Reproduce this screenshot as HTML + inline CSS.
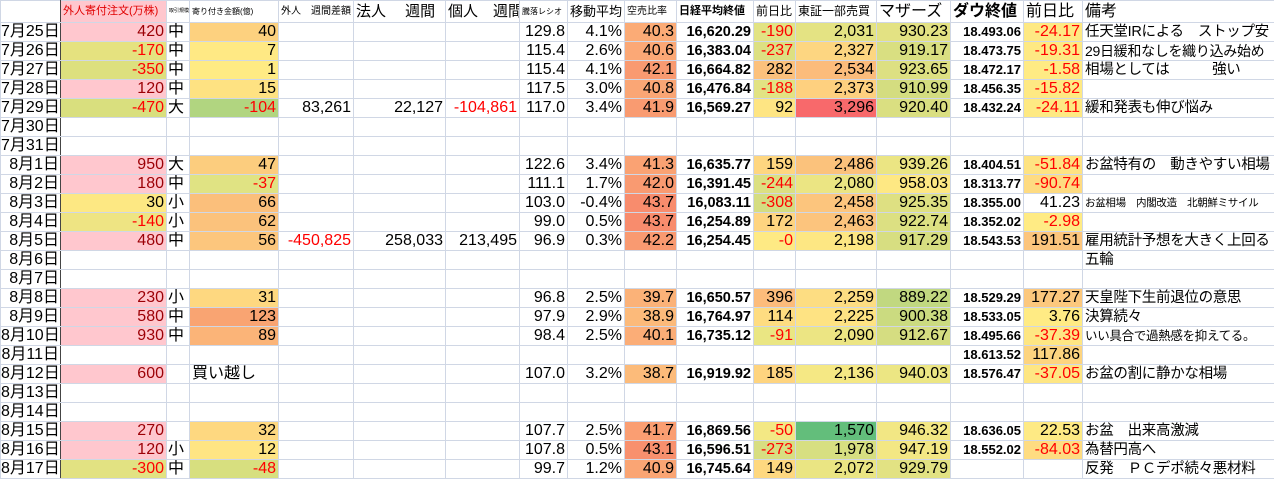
<!DOCTYPE html>
<html><head><meta charset="utf-8">
<style>
html,body{margin:0;padding:0;background:#fff;width:1274px;height:479px;overflow:hidden}
table{border-collapse:collapse;table-layout:fixed;width:1274px;font-family:"Liberation Sans","Noto Sans CJK JP",sans-serif;font-size:16px;color:#000}
td{border:1px solid #d0d7e5;height:18px;line-height:18px;padding:0 2px;white-space:nowrap;overflow:hidden;text-align:right}
tr.h td{height:21px;line-height:21px;text-align:left;font-size:11px}
td.a{border-right:1px solid #444;padding:0 1px 0 0}
td.c{text-align:left;padding:0 1px}
td.q{text-align:left;font-size:14.5px;letter-spacing:-0.3px}
td.n{font-weight:bold;font-size:14.5px}
td.w{font-weight:bold;font-size:13px}
.r{color:#ff0000}.d{color:#9c0006}
.pk{background:#ffc7ce}
</style></head><body>
<table>
<colgroup><col style="width:60px"><col style="width:106px"><col style="width:23px"><col style="width:89px"><col style="width:75px"><col style="width:92px"><col style="width:74px"><col style="width:48px"><col style="width:57px"><col style="width:52px"><col style="width:77px"><col style="width:42px"><col style="width:81px"><col style="width:74px"><col style="width:73px"><col style="width:59px"><col style="width:192px"></colgroup>
<tr class="h"><td class="a"></td><td class="pk" style="color:#e00000;font-size:11px">外人寄付注文(万株)</td><td style="font-size:5px">取引規模</td><td style="font-size:8px">寄り付き金額(億)</td><td style="font-size:10px">外人　週間差額</td><td style="font-size:15px">法人　 週間</td><td style="font-size:15px">個人　週間</td><td style="font-size:8px">騰落レシオ</td><td style="font-size:13px">移動平均</td><td style="font-size:10px">空売比率</td><td style="font-size:11px;font-weight:bold">日経平均終値</td><td style="font-size:12px">前日比</td><td style="font-size:12px">東証一部売買</td><td style="font-size:16px">マザーズ</td><td style="font-size:16px;font-weight:bold">ダウ終値</td><td style="font-size:16px">前日比</td><td style="font-size:16px">備考</td></tr>
<tr><td class="a">7月25日</td><td class="pk d">420</td><td class="c">中</td><td style="background:#fdd17f">40</td><td></td><td></td><td></td><td>129.8</td><td>4.1%</td><td style="background:#fbab76">40.3</td><td class="n">16,620.29</td><td class="r" style="background:#e2e383">-190</td><td style="background:#e4e383">2,031</td><td style="background:#e3e283">930.23</td><td class="w">18.493.06</td><td class="r" style="background:#fee983">-24.17</td><td class="q">任天堂IRによる　ストップ安</td></tr>
<tr><td class="a">7月26日</td><td class="r" style="background:#e5e27f">-170</td><td class="c">中</td><td style="background:#ffe984">7</td><td></td><td></td><td></td><td>115.4</td><td>2.6%</td><td style="background:#fba876">40.6</td><td class="n">16,383.04</td><td class="r" style="background:#dde082">-237</td><td style="background:#fdd681">2,327</td><td style="background:#d9df81">919.17</td><td class="w">18.473.75</td><td class="r" style="background:#fee983">-19.31</td><td class="q" style="font-size:14px">29日緩和なしを織り込み始め</td></tr>
<tr><td class="a">7月27日</td><td class="r" style="background:#dde07e">-350</td><td class="c">中</td><td style="background:#ffeb84">1</td><td></td><td></td><td></td><td>115.4</td><td>4.1%</td><td style="background:#f99a71">42.1</td><td class="n">16,664.82</td><td style="background:#fcc17c">282</td><td style="background:#fcbc7b">2,534</td><td style="background:#dde082">923.65</td><td class="w">18.472.17</td><td class="r" style="background:#ffeb84">-1.58</td><td class="q">相場としては　　　強い</td></tr>
<tr><td class="a">7月28日</td><td class="pk d">120</td><td class="c">中</td><td style="background:#fee282">15</td><td></td><td></td><td></td><td>117.5</td><td>3.0%</td><td style="background:#faa675">40.8</td><td class="n">16,476.84</td><td class="r" style="background:#e2e383">-188</td><td style="background:#fed07f">2,373</td><td style="background:#d4dd80">910.99</td><td class="w">18.456.35</td><td class="r" style="background:#fee983">-15.82</td><td class="q"></td></tr>
<tr><td class="a">7月29日</td><td class="r" style="background:#d9df7e">-470</td><td class="c">大</td><td class="r" style="background:#b1d580">-104</td><td>83,261</td><td>22,127</td><td class="r">-104,861</td><td>117.0</td><td>3.4%</td><td style="background:#f99b71">41.9</td><td class="n">16,569.27</td><td style="background:#fee583">92</td><td style="background:#f8696b">3,296</td><td style="background:#dadf81">920.40</td><td class="w">18.432.24</td><td class="r" style="background:#fee983">-24.11</td><td class="q">緩和発表も伸び悩み</td></tr>
<tr><td class="a">7月30日</td><td></td><td></td><td></td><td></td><td></td><td></td><td></td><td></td><td></td><td></td><td></td><td></td><td></td><td></td><td></td><td></td></tr>
<tr><td class="a">7月31日</td><td></td><td></td><td></td><td></td><td></td><td></td><td></td><td></td><td></td><td></td><td></td><td></td><td></td><td></td><td></td><td></td></tr>
<tr><td class="a">8月1日</td><td class="pk d">950</td><td class="c">大</td><td style="background:#fccd7e">47</td><td></td><td></td><td></td><td>122.6</td><td>3.4%</td><td style="background:#faa273">41.3</td><td class="n">16,635.77</td><td style="background:#fed680">159</td><td style="background:#fbc27c">2,486</td><td style="background:#ebe583">939.26</td><td class="w">18.404.51</td><td class="r" style="background:#fee382">-51.84</td><td class="q">お盆特有の　動きやすい相場</td></tr>
<tr><td class="a">8月2日</td><td class="pk d">180</td><td class="c">中</td><td class="r" style="background:#e0e383">-37</td><td></td><td></td><td></td><td>111.1</td><td>1.7%</td><td style="background:#f99a71">42.0</td><td class="n">16,391.45</td><td class="r" style="background:#dce082">-244</td><td style="background:#ebe583">2,080</td><td style="background:#fee883">958.03</td><td class="w">18.313.77</td><td class="r" style="background:#fedb81">-90.74</td><td class="q"></td></tr>
<tr><td class="a">8月3日</td><td style="background:#fde883">30</td><td class="c">小</td><td style="background:#fbbf7b">66</td><td></td><td></td><td></td><td>103.0</td><td>-0.4%</td><td style="background:#f88c6d">43.7</td><td class="n">16,083.11</td><td class="r" style="background:#d5dd81">-308</td><td style="background:#fcc57d">2,458</td><td style="background:#dee082">925.35</td><td class="w">18.355.00</td><td>41.23</td><td class="q" style="font-size:10.5px">お盆相場　内閣改造　北朝鮮ミサイル</td></tr>
<tr><td class="a">8月4日</td><td class="r" style="background:#eee483">-140</td><td class="c">小</td><td style="background:#fbc27c">62</td><td></td><td></td><td></td><td>99.0</td><td>0.5%</td><td style="background:#f88c6d">43.7</td><td class="n">16,254.89</td><td style="background:#fed480">172</td><td style="background:#fcc47d">2,463</td><td style="background:#dce082">922.74</td><td class="w">18.352.02</td><td class="r" style="background:#ffeb84">-2.98</td><td class="q"></td></tr>
<tr><td class="a">8月5日</td><td class="pk d">480</td><td class="c">中</td><td style="background:#fcc67d">56</td><td class="r">-450,825</td><td>258,033</td><td>213,495</td><td>96.9</td><td>0.3%</td><td style="background:#f99a71">42.2</td><td class="n">16,254.45</td><td class="r" style="background:#feea84">-0</td><td style="background:#fde783">2,198</td><td style="background:#d7de81">917.29</td><td class="w">18.543.53</td><td style="background:#fcc57d">191.51</td><td class="q">雇用統計予想を大きく上回る</td></tr>
<tr><td class="a">8月6日</td><td></td><td></td><td></td><td></td><td></td><td></td><td></td><td></td><td></td><td></td><td></td><td></td><td></td><td></td><td></td><td class="q">五輪</td></tr>
<tr><td class="a">8月7日</td><td></td><td></td><td></td><td></td><td></td><td></td><td></td><td></td><td></td><td></td><td></td><td></td><td></td><td></td><td></td><td></td></tr>
<tr><td class="a">8月8日</td><td class="pk d">230</td><td class="c">小</td><td style="background:#fed880">31</td><td></td><td></td><td></td><td>96.8</td><td>2.5%</td><td style="background:#fbb278">39.7</td><td class="n">16,650.57</td><td style="background:#fcbc7b">396</td><td style="background:#fddd82">2,259</td><td style="background:#c1d880">889.22</td><td class="w">18.529.29</td><td style="background:#fcc87d">177.27</td><td class="q">天皇陛下生前退位の意思</td></tr>
<tr><td class="a">8月9日</td><td class="pk d">580</td><td class="c">中</td><td style="background:#f9a472">123</td><td></td><td></td><td></td><td>97.9</td><td>2.9%</td><td style="background:#fcba7a">38.9</td><td class="n">16,764.97</td><td style="background:#fedc81">114</td><td style="background:#fee383">2,225</td><td style="background:#cbdb80">900.38</td><td class="w">18.533.05</td><td style="background:#ffeb84">3.76</td><td class="q">決算続々</td></tr>
<tr><td class="a">8月10日</td><td class="pk d">930</td><td class="c">中</td><td style="background:#fbb478">89</td><td></td><td></td><td></td><td>98.4</td><td>2.5%</td><td style="background:#fbad77">40.1</td><td class="n">16,735.12</td><td class="r" style="background:#eae683">-91</td><td style="background:#ece583">2,090</td><td style="background:#d5dd81">912.67</td><td class="w">18.495.66</td><td class="r" style="background:#fee683">-37.39</td><td class="q" style="font-size:12.5px">いい具合で過熱感を抑えてる。</td></tr>
<tr><td class="a">8月11日</td><td></td><td></td><td></td><td></td><td></td><td></td><td></td><td></td><td></td><td></td><td></td><td></td><td></td><td class="w">18.613.52</td><td style="background:#fdd47f">117.86</td><td></td></tr>
<tr><td class="a">8月12日</td><td class="pk d">600</td><td class="c"></td><td style="text-align:left">買い越し</td><td></td><td></td><td></td><td>107.0</td><td>3.2%</td><td style="background:#fcbb7a">38.7</td><td class="n">16,919.92</td><td style="background:#fed47f">185</td><td style="background:#f5e884">2,136</td><td style="background:#ece683">940.03</td><td class="w">18.576.47</td><td class="r" style="background:#fee683">-37.05</td><td class="q">お盆の割に静かな相場</td></tr>
<tr><td class="a">8月13日</td><td></td><td></td><td></td><td></td><td></td><td></td><td></td><td></td><td></td><td></td><td></td><td></td><td></td><td></td><td></td><td></td></tr>
<tr><td class="a">8月14日</td><td></td><td></td><td></td><td></td><td></td><td></td><td></td><td></td><td></td><td></td><td></td><td></td><td></td><td></td><td></td><td></td></tr>
<tr><td class="a">8月15日</td><td class="pk d">270</td><td class="c"></td><td style="background:#fed880">32</td><td></td><td></td><td></td><td>107.7</td><td>2.5%</td><td style="background:#fa9e72">41.7</td><td class="n">16,869.56</td><td class="r" style="background:#f3e884">-50</td><td style="background:#63be7b">1,570</td><td style="background:#f2e784">946.32</td><td class="w">18.636.05</td><td style="background:#feea84">22.53</td><td class="q">お盆　出来高激減</td></tr>
<tr><td class="a">8月16日</td><td class="pk d">120</td><td class="c">小</td><td style="background:#ffe583">12</td><td></td><td></td><td></td><td>107.8</td><td>0.5%</td><td style="background:#f8906e">43.1</td><td class="n">16,596.51</td><td class="r" style="background:#d8de81">-273</td><td style="background:#d7df81">1,978</td><td style="background:#f3e784">947.19</td><td class="w">18.552.02</td><td class="r" style="background:#fedc81">-84.03</td><td class="q">為替円高へ</td></tr>
<tr><td class="a">8月17日</td><td class="r" style="background:#e2e282">-300</td><td class="c">中</td><td class="r" style="background:#d7df7f">-48</td><td></td><td></td><td></td><td>99.7</td><td>1.2%</td><td style="background:#faa574">40.9</td><td class="n">16,745.64</td><td style="background:#fed880">149</td><td style="background:#eae583">2,072</td><td style="background:#e2e283">929.79</td><td></td><td></td><td class="q">反発　ＰＣデポ続々悪材料</td></tr>
</table>
</body></html>
